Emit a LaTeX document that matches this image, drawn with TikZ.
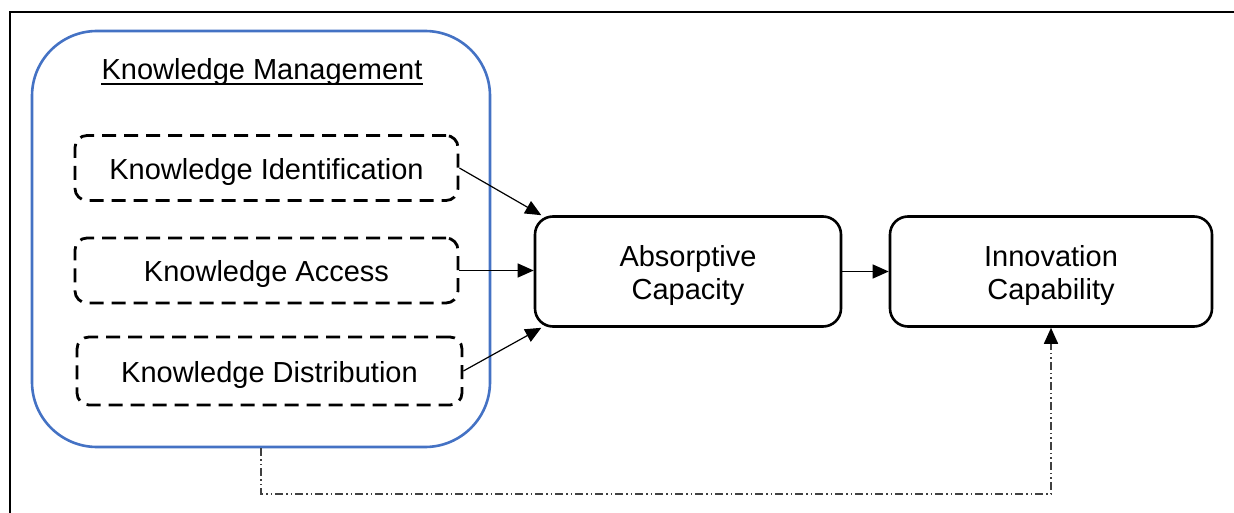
\documentclass[tikz,border=0pt]{standalone}
\usepackage{fontspec}
\setmainfont{Liberation Sans}
\usetikzlibrary{arrows.meta}
\definecolor{kmblue}{HTML}{4472C4}
\definecolor{ddgray}{HTML}{404040}
\newcommand{\lowr}[1]{\rule{0pt}{29pt}#1}
\begin{document}
\begin{tikzpicture}[x=1pt,y=-1pt,
  txt/.style={font=\fontsize{29}{33}\selectfont, align=center},
  dbox/.style={txt, draw, dashed, dash pattern=on 14pt off 8pt, line width=2.8pt, rounded corners=12pt, minimum width=383pt, minimum height=65pt, inner sep=0pt},
  sbox/.style={txt, draw, line width=2.6pt, rounded corners=18pt, minimum height=110pt, inner sep=0pt},
  arr/.style={-{Triangle[length=16pt,width=14pt]}, line width=1.2pt},
  ddarr/.style={-{Triangle[length=16pt,width=14pt,color=black]}, line width=1.7pt, draw=ddgray, dash pattern=on 8pt off 3pt on 1.5pt off 3pt on 1.5pt off 3pt}
]
\useasboundingbox (0,0) rectangle (1234,513);
\clip (0,0) rectangle (1234,513);
% outer frame
\draw[line width=2.4pt] (10,530) -- (10,12) -- (1250,12);
% knowledge management container
\node[draw=kmblue, line width=2.6pt, rounded corners=65pt, minimum width=458pt, minimum height=416pt, inner sep=0pt] (km) at (261,239) {};
\node[txt, inner sep=0pt, anchor=base] (kmt) at (262,80) {Knowledge Management};
\draw[line width=2.2pt] ([yshift=-4pt]kmt.base west) -- ([yshift=-4pt]kmt.base east);
% dashed boxes
\node[dbox] (ki) at (266.5,168) {\lowr{Knowledge Identification}};
\node[dbox] (ka) at (266.5,270.5) {\lowr{Knowledge Access}};
\node[dbox, minimum width=385pt, minimum height=68pt] (kd) at (269.5,371) {\lowr{Knowledge Distribution}};
% main boxes
\node[sbox, minimum width=306pt] (ac) at (688,271.5) {\lowr{Absorptive}\\Capacity};
\node[sbox, minimum width=322pt] (ic) at (1051,271.5) {\lowr{Innovation}\\Capability};
% arrows
\draw[arr] (ki.east) -- (ac.159);
\draw[arr] (ka.east) -- (ac.west |- ka.east);
\draw[arr] (kd.east) -- (ac.201);
\draw[arr] (ac.east) -- (ic.west);
\coordinate (c1) at (261,494);
\coordinate (c2) at (1051,494);
\draw[ddarr] (km.south) -- (c1) -- (c2) -- (ic.south);
\end{tikzpicture}
\end{document}
